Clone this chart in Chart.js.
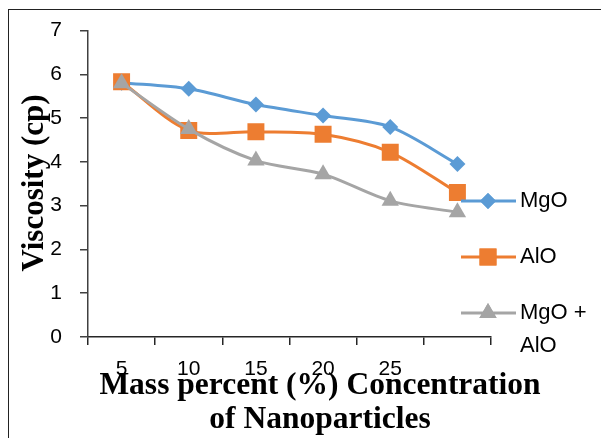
<!DOCTYPE html>
<html lang="en">
<head>
<meta charset="UTF-8">
<title>Viscosity chart</title>
<style>
    html, body { margin: 0; padding: 0; background: #fff; overflow: hidden; }
    #wrap { position: relative; width: 601px; height: 438px; }
    #frame { position: absolute; left: 8px; top: 9px; width: 700px; height: 600px; border: 1.5px solid #222; box-sizing: border-box; }
    canvas { position: absolute; left: 0; top: 0; }
</style>
</head>
<body>
<div id="wrap">
    <div id="frame"></div>
    <canvas id="chart" width="601" height="438"></canvas>
</div>
<script src="https://cdn.jsdelivr.net/npm/chart.js"></script>
<script>
    // values
    const labels = ['5', '10', '15', '20', '25', ''];
    const mgo = [5.81, 5.67, 5.31, 5.06, 4.80, 3.95];
    const alo = [5.83, 4.72, 4.69, 4.63, 4.22, 3.30];
    const mix = [5.80, 4.75, 4.03, 3.72, 3.11, 2.85];
    const yTicks = [0, 1, 2, 3, 4, 5, 6, 7];

    const legendItems = [
        { text: ['MgO'], color: '#5B9BD5', style: 'rectRot', radius: 8, y: 201 },
        { text: ['AlO'], color: '#ED7D31', style: 'rect', radius: 12, y: 257 },
        { text: ['MgO +', 'AlO'], color: '#A5A5A5', style: 'triangle', radius: 10, y: 313 }
    ];

    // axis titles and the side legend, Excel style
    const extras = {
        id: 'extras',
        afterDraw(chart) {
            const ctx = chart.ctx;
            ctx.save();
            ctx.fillStyle = '#000';
            ctx.font = 'bold 31.5px "Liberation Serif", "Times New Roman", serif';
            ctx.textAlign = 'center';
            ctx.textBaseline = 'middle';
            ctx.fillText('Mass percent (%) Concentration', 320, 386);
            ctx.fillText('of Nanoparticles', 320, 420);

            ctx.font = 'bold 31px "Liberation Serif", "Times New Roman", serif';
            ctx.translate(35, 183);
            ctx.rotate(-Math.PI / 2);
            ctx.fillText('Viscosity (cp)', 0, 0);
            ctx.restore();

            ctx.save();
            legendItems.forEach(it => {
                ctx.strokeStyle = it.color;
                ctx.lineWidth = 3;
                ctx.beginPath();
                ctx.moveTo(461, it.y);
                ctx.lineTo(516, it.y);
                ctx.stroke();
                ctx.fillStyle = it.color;
                Chart.helpers.drawPoint(ctx, { pointStyle: it.style, radius: it.radius, rotation: 0, borderWidth: 0 }, 488, it.y);
                ctx.fill();
                ctx.fillStyle = '#000';
                ctx.font = '22px "Liberation Sans", Arial, sans-serif';
                ctx.textAlign = 'left';
                ctx.textBaseline = 'middle';
                it.text.forEach((t, i) => ctx.fillText(t, 520, it.y + i * 33));
            });
            ctx.restore();
        }
    };

    const config = {
        type: 'line',
        data: {
            labels: labels,
            datasets: [{
                label: 'MgO',
                data: mgo,
                borderColor: '#5B9BD5',
                backgroundColor: '#5B9BD5',
                pointStyle: 'rectRot',
                pointRadius: 8,
                order: 2
            }, {
                label: 'AlO',
                data: alo,
                borderColor: '#ED7D31',
                backgroundColor: '#ED7D31',
                pointStyle: 'rect',
                pointRadius: 12,
                order: 1
            }, {
                label: 'MgO + AlO',
                data: mix,
                borderColor: '#A5A5A5',
                backgroundColor: '#A5A5A5',
                pointStyle: 'triangle',
                pointRadius: 10,
                order: 0
            }]
        },
        options: {
            responsive: false,
            animation: false,
            devicePixelRatio: 1,
            elements: {
                line: { borderWidth: 3, tension: 0.3 },
                point: { borderWidth: 0, hoverRadius: 8 }
            },
            layout: { padding: { top: 29, right: 110, bottom: 0, left: 0 } },
            plugins: { legend: { display: false }, tooltip: { enabled: false } },
            scales: {
                x: {
                    offset: true,
                    grid: { offset: true, drawOnChartArea: false, tickLength: 8, color: '#262626', lineWidth: 1.5 },
                    border: { color: '#262626', width: 1.5 },
                    ticks: { padding: 12, color: '#000', font: { family: '"Liberation Sans", Arial, sans-serif', size: 21 } },
                    afterFit(scale) { scale.height = 101; }
                },
                y: {
                    min: 0,
                    max: 7,
                    afterBuildTicks(scale) { scale.ticks = yTicks.map(v => ({ value: v })); },
                    grid: { drawOnChartArea: false, tickLength: 8, color: '#404040', lineWidth: 1.5 },
                    border: { color: '#404040', width: 1.5 },
                    ticks: { padding: 18, color: '#000', font: { family: '"Liberation Sans", Arial, sans-serif', size: 21 } },
                    afterFit(scale) { scale.width = 88; }
                }
            }
        },
        plugins: [extras]
    };

    const chart = new Chart(document.getElementById('chart'), config);
</script>
</body>
</html>
